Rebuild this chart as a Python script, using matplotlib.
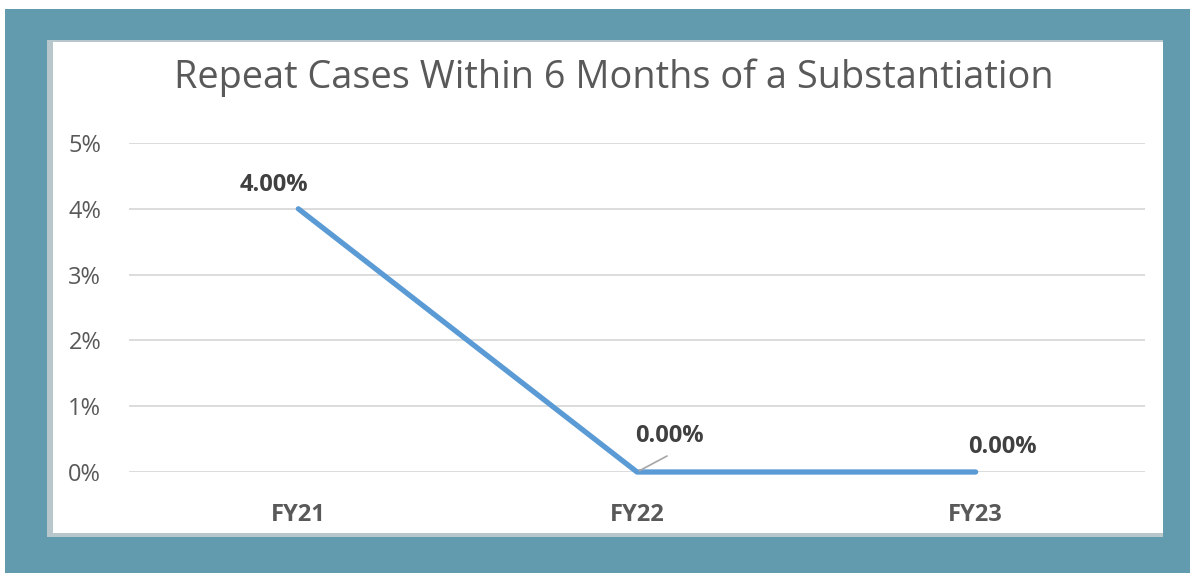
import matplotlib
matplotlib.use("Agg")
import matplotlib.pyplot as plt
from matplotlib.patches import Rectangle
from matplotlib.ticker import FuncFormatter, MultipleLocator

categories = ["FY21", "FY22", "FY23"]
values = [0.04, 0.0, 0.0]
labels = ["4.00%", "0.00%", "0.00%"]
label_offsets = [(-24, 24), (32, 36), (27, 25)]

plt.rcParams['font.family'] = ['Open Sans', 'DejaVu Sans']

W, H = 1198, 573
fig = plt.figure(figsize=(W / 100, H / 100), dpi=100)
fig.patch.set_facecolor("white")

teal = "#629BAD"
# teal background
fig.patches.append(Rectangle((5 / W, 0), (1190 - 5) / W, 1 - 9 / H,
                             transform=fig.transFigure, facecolor=teal, edgecolor="none", zorder=-3))
# shadow and white panel
fig.patches.append(Rectangle((47 / W, 1 - 537 / H), (1163 - 47) / W, (537 - 40) / H,
                             transform=fig.transFigure, facecolor="#B8C7CC", edgecolor="none", zorder=-2))
fig.patches.append(Rectangle((53 / W, 1 - 533 / H), (1163 - 53) / W, (533 - 42) / H,
                             transform=fig.transFigure, facecolor="white", edgecolor="none", zorder=-1))

ax = fig.add_axes([129 / W, 1 - 472 / H, (1145 - 129) / W, (472 - 143) / H])
ax.set_zorder(2)
ax.set_facecolor("none")
x = list(range(len(categories)))
ax.plot(x, values, color="#5B9BD5", linewidth=3.8, solid_capstyle="round", zorder=3, clip_on=False)

ax.set_xlim(-0.5, len(categories) - 0.5)
ax.set_ylim(0, 0.05)
ax.yaxis.set_major_locator(MultipleLocator(0.01))
ax.yaxis.set_major_formatter(FuncFormatter(lambda v, p: f"{v*100:.0f}%"))
ax.grid(axis="y", color="#D9D9D9", linewidth=1.3)
ax.set_axisbelow(True)
for s in ax.spines.values():
    s.set_visible(False)
ax.set_xticks(x)
ax.set_xticklabels(categories, fontweight="bold")
ax.tick_params(axis="both", length=0, colors="#595959", labelsize=17)
ax.tick_params(axis="y", pad=20)
ax.tick_params(axis="x", pad=22)

for i, (v, lab, off) in enumerate(zip(values, labels, label_offsets)):
    ax.annotate(lab, xy=(i, v), xytext=off, textcoords="offset pixels",
                ha="center", va="center", fontsize=17, fontweight="bold", color="#404040",
                zorder=4)

# leader line for FY22
ax.annotate("", xy=(1, 0), xytext=(30, 16), textcoords="offset pixels",
            arrowprops=dict(arrowstyle="-", color="#A6A6A6", linewidth=1.2, shrinkA=0, shrinkB=2))

fig.text(614 / W, 1 - 78 / H, "Repeat Cases Within 6 Months of a Substantiation",
         ha="center", va="center", fontsize=27.3, color="#595959")

fig.savefig("out.png", dpi=100)
